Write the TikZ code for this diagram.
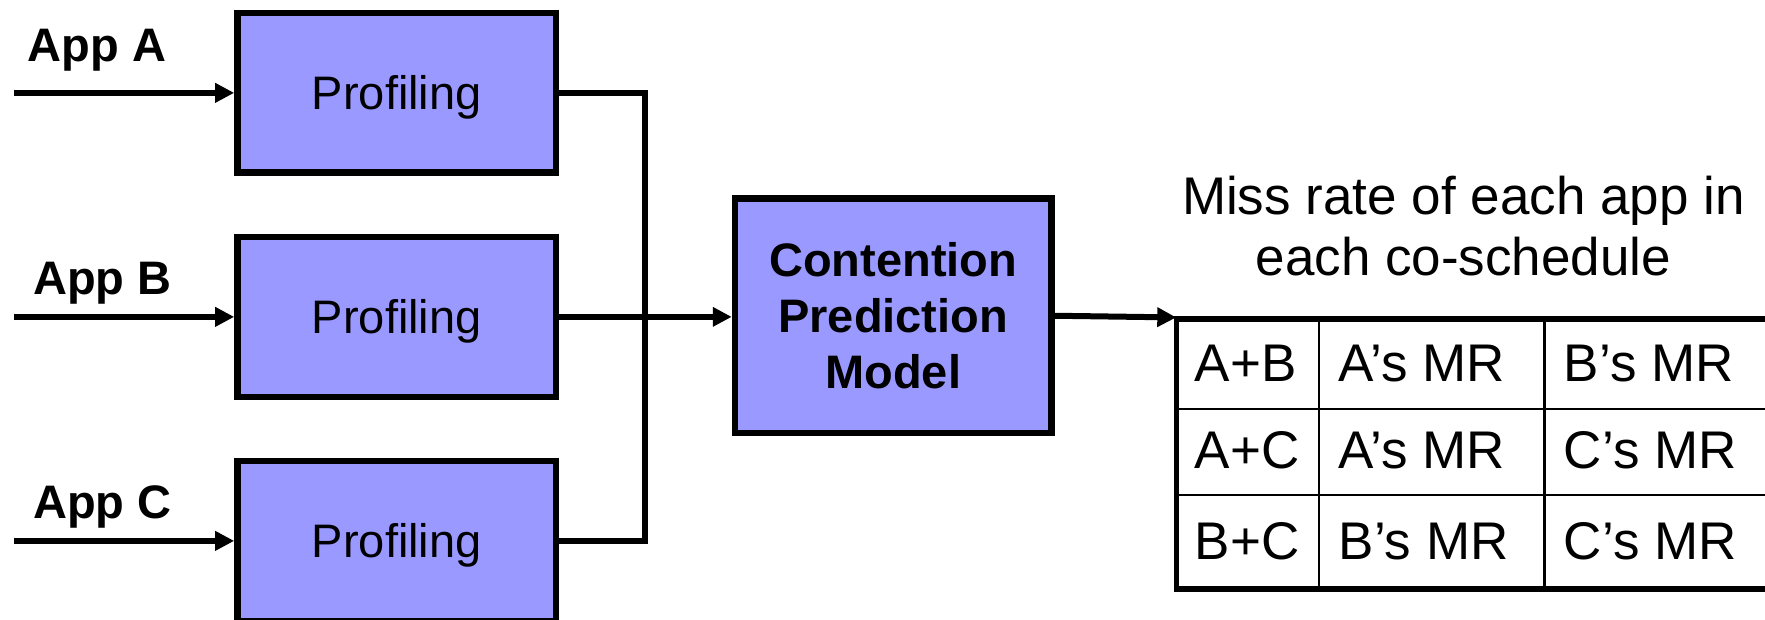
\documentclass[tikz,border=0pt]{standalone}
\usepackage{fontspec}
\setmainfont{Liberation Sans}
\usetikzlibrary{arrows.meta}
\definecolor{procfill}{RGB}{153,153,255}
\begin{document}
\begin{tikzpicture}[x=0.5629pt,y=-0.5629pt,
  stagebox/.style={draw=black, line width=3.3pt, fill=procfill, inner sep=0pt,
    minimum width={283*0.5629pt}, minimum height={142*0.5629pt}, text depth=0pt,
    font=\fontsize{23.5pt}{28pt}\selectfont},
  modelbox/.style={draw=black, line width=3.3pt, fill=procfill, inner sep=0pt,
    minimum width={281*0.5629pt}, minimum height={208*0.5629pt}, align=center,
    font=\fontsize{23.5pt}{28.1pt}\selectfont\bfseries},
  applabel/.style={inner sep=0pt, text depth=0pt, font=\fontsize{23.5pt}{28pt}\selectfont\bfseries},
  cell/.style={inner sep=0pt, anchor=west, font=\fontsize{26.5pt}{31pt}\selectfont},
  link/.style={line width=3pt},
  flow/.style={link, -{Triangle[length=9.5pt, width=9.3pt]}},
  outer/.style={line width=2.8pt},
  inner/.style={line width=1.1pt}
]
\useasboundingbox (0,0) rectangle (1568,550);
\clip (0,0) rectangle (1568,550);

% application inputs and their profiling stages
\node[applabel] (appA) at (86,40) {App A};
\node[applabel] (appB) at (91,247) {App B};
\node[applabel] (appC) at (91,446) {App C};

\node[stagebox] (profA) at (352.5,82.5) {Profiling};
\node[stagebox] (profB) at (352.5,281.5) {Profiling};
\node[stagebox] (profC) at (352.5,480.5) {Profiling};

\coordinate (inA) at (12,82.5);
\coordinate (inB) at (12,281.5);
\coordinate (inC) at (12,480.5);
\draw[flow] (inA) -- (profA.west);
\draw[flow] (inB) -- (profB.west);
\draw[flow] (inC) -- (profC.west);

% prediction model
\node[modelbox] (model) at (793.5,280.5) {Contention\\Prediction\\Model};

% collecting bus from the three profilers
\coordinate (busTop) at (573,82.5);
\coordinate (busBot) at (573,480.5);
\draw[link] (profA.east) -- (busTop) -- (busBot) -- (profC.east);
\draw[flow] (profB.east) -- (profB.east -| model.west);

% output table of predicted miss rates
\node[inner sep=0pt, align=center, font=\fontsize{26.5pt}{30.4pt}\selectfont]
  (caption) at (1300,201) {Miss rate of each app in\\each co-schedule};

\coordinate (tab) at (1045,283.5);
\coordinate (tabin) at (1045,282);
\draw[flow] (model.east) -- (tabin);

\draw[inner] (1045,363) -- (1600,363);
\draw[inner] (1045,440) -- (1600,440);
\draw[inner] (1172,283) -- (1172,523);
\draw[inner] (1372,283) -- (1372,523);
\draw[outer] (1600,283.5) -- (tab) -- (1045,523) -- (1600,523);

\node[cell] (r1a) at (1061,323) {A+B};
\node[cell] (r1b) at (1189,323) {A’s MR};
\node[cell] (r1c) at (1389,323) {B’s MR};
\node[cell] (r2a) at (1061,400) {A+C};
\node[cell] (r2b) at (1189,400) {A’s MR};
\node[cell] (r2c) at (1389,400) {C’s MR};
\node[cell] (r3a) at (1061,481) {B+C};
\node[cell] (r3b) at (1189,481) {B’s MR};
\node[cell] (r3c) at (1389,481) {C’s MR};
\end{tikzpicture}
\end{document}
